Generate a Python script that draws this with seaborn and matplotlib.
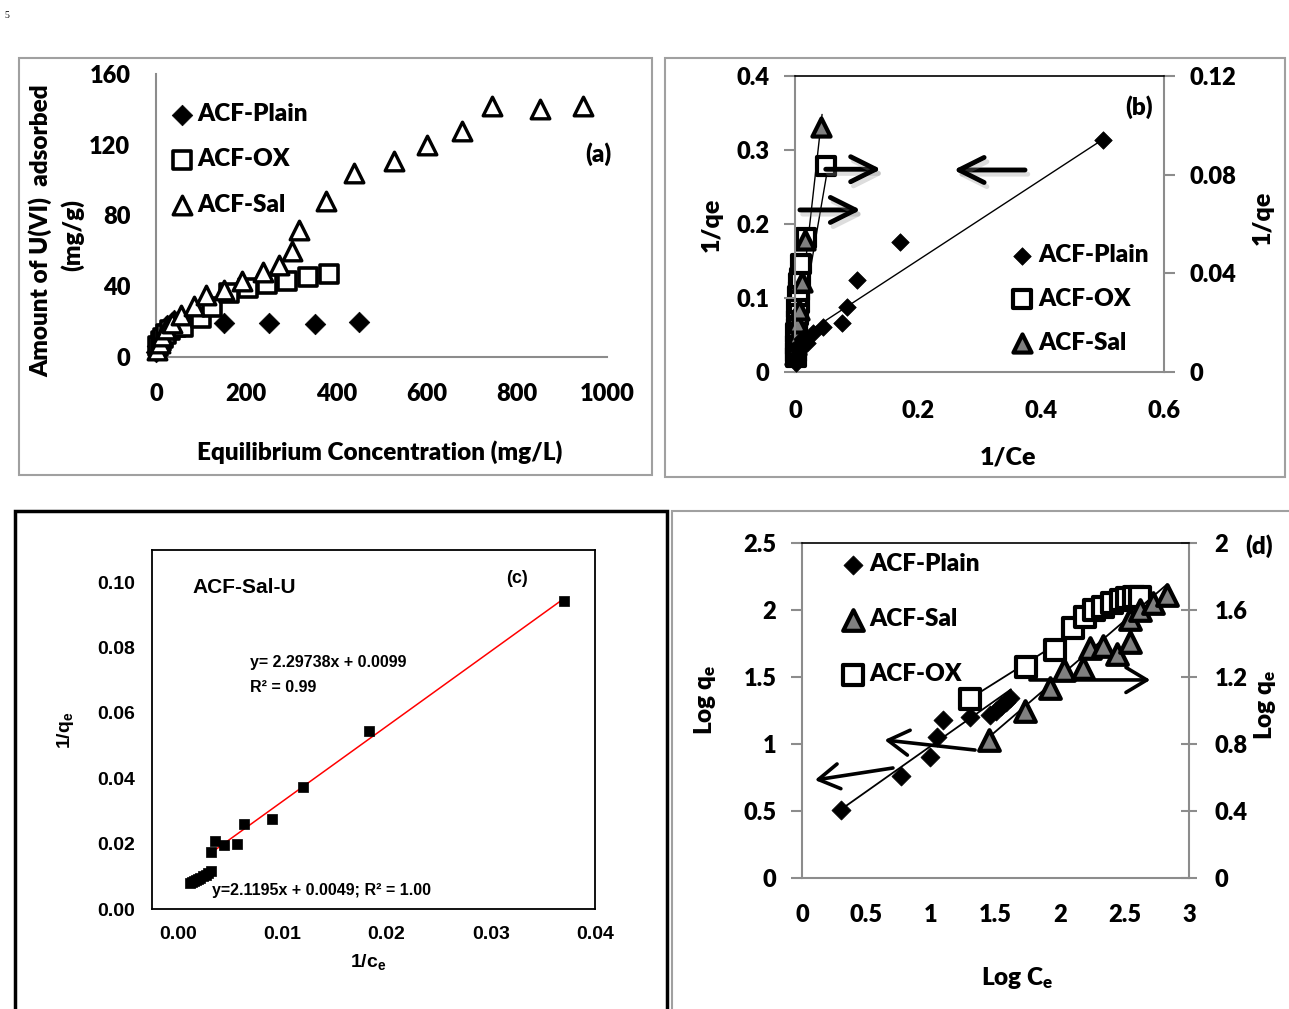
import numpy as np
import pandas as pd
import matplotlib
matplotlib.use("Agg")
import matplotlib.pyplot as plt
import matplotlib.patheffects as pe
from matplotlib.patches import Rectangle
from matplotlib.ticker import MultipleLocator
import seaborn as sns

# ---------------- data ----------------
# (a) adsorption isotherms: equilibrium concentration (mg/L) vs amount adsorbed (mg/g)
a_plain_x = [1, 3, 6, 9, 13, 18, 24, 40, 150, 250, 352, 450]
a_plain_y = [3, 6, 9, 12, 14, 16, 18, 21, 19.5, 19.3, 18.8, 20]
a_ox_x = [5, 10, 15, 22, 30, 45, 60, 100, 125, 162, 203, 247, 291, 336, 383]
a_ox_y = [6, 9, 11, 13, 15, 17, 17, 22, 28, 36, 39, 41, 43, 45, 47]
a_sal_x = [3, 8, 14, 22, 35, 55, 84, 111, 150, 190, 237, 272, 301, 318, 378,
           440, 527, 600, 679, 745, 852, 947]
a_sal_y = [4, 8, 12, 16, 19, 24, 29, 35, 38, 43, 48, 52, 60, 72, 88,
           104, 111, 120, 128, 142, 140, 142]

# (b) Langmuir plot: 1/Ce vs 1/qe (Plain on left axis, OX and Sal on right axis)
b_plain_x = [0.001, 0.002, 0.003, 0.005, 0.008, 0.012, 0.020, 0.029, 0.046, 0.076, 0.085,
             0.100, 0.171, 0.500]
b_plain_y = [0.012, 0.016, 0.020, 0.030, 0.038, 0.045, 0.039, 0.053, 0.061, 0.066, 0.088,
             0.124, 0.176, 0.313]
b_ox_x = [0.001, 0.002, 0.001, 0.003, 0.002, 0.004, 0.003, 0.005, 0.004, 0.006, 0.005, 0.007,
          0.006, 0.008, 0.010, 0.018, 0.050]
b_ox_y = [0.006, 0.008, 0.011, 0.013, 0.016, 0.018, 0.021, 0.023, 0.026, 0.028, 0.031, 0.033,
          0.036, 0.038, 0.0438, 0.0543, 0.0835]
b_sal_x = [0.000, 0.002, 0.003, 0.004, 0.006, 0.0114, 0.017, 0.042]
b_sal_y = [0.007, 0.011, 0.015, 0.020, 0.025, 0.0365, 0.0535, 0.0993]
b_plain_fit = [0.543, 0.0425, 0.03, 0.50]      # slope, intercept, x start, x end
b_ox_fit = [1.45, 0.0054, 0.005, 0.055]
b_sal_fit = [2.23, 0.0063, 0.003, 0.044]

# (c) ACF-Sal-U linear plot: 1/ce vs 1/qe
c_x = [0.00115, 0.00135, 0.00155, 0.00175, 0.00195, 0.00215, 0.00240, 0.00265, 0.00290, 0.00314,
       0.00314, 0.00352, 0.00438, 0.00563, 0.00636, 0.00902, 0.01196, 0.01835, 0.03703]
c_y = [0.0079, 0.0082, 0.0087, 0.0090, 0.0092, 0.0096, 0.0100, 0.0105, 0.0110, 0.0117,
       0.0174, 0.0208, 0.0197, 0.0199, 0.0261, 0.0276, 0.0374, 0.0545, 0.0943]
c_fit_high = [2.29738, 0.0099, 0.00314, 0.03703]
c_fit_low = [2.1195, 0.0049, 0.00115, 0.00314]

# (d) Freundlich plot: log Ce vs log qe (Plain, Sal on left axis; OX on right axis)
d_plain_x = [0.30, 0.77, 0.99, 1.05, 1.09, 1.30, 1.46, 1.50, 1.54, 1.58, 1.61]
d_plain_y = [0.51, 0.76, 0.90, 1.05, 1.18, 1.20, 1.22, 1.25, 1.28, 1.31, 1.34]
d_sal_x = [1.45, 1.73, 1.92, 2.03, 2.18, 2.23, 2.33, 2.44, 2.54, 2.54, 2.62, 2.72, 2.83]
d_sal_y = [1.03, 1.25, 1.42, 1.55, 1.57, 1.72, 1.73, 1.67, 1.76, 1.93, 2.00, 2.05, 2.11]
d_ox_x = [1.30, 1.74, 1.96, 2.10, 2.19, 2.26, 2.33, 2.40, 2.47, 2.52, 2.57, 2.62]
d_ox_y = [1.07, 1.26, 1.36, 1.49, 1.56, 1.60, 1.62, 1.64, 1.66, 1.67, 1.68, 1.68]
d_plain_fit = [0.68, 0.306, 0.30, 1.62]
d_sal_fit = [0.826, -0.146, 1.40, 2.83]
d_ox_fit = [0.485, 0.44, 1.30, 2.62]

# ---------------- style ----------------
sns.set_style("white")
WT = 'heavy'
plt.rcParams['font.family'] = ['Lato', 'DejaVu Sans']
plt.rcParams['font.weight'] = WT
plt.rcParams['text.color'] = 'black'
plt.rcParams['axes.labelcolor'] = 'black'
plt.rcParams['xtick.labelcolor'] = 'black'
plt.rcParams['ytick.labelcolor'] = 'black'
plt.rcParams['mathtext.fontset'] = 'custom'
plt.rcParams['mathtext.rm'] = 'Lato:weight=heavy'
plt.rcParams['mathtext.it'] = 'Lato:weight=heavy'
plt.rcParams['mathtext.sf'] = 'Liberation Sans:bold'
plt.rcParams['mathtext.default'] = 'rm'

W, H = 1289, 1009
fig = plt.figure(figsize=(W / 100, H / 100), dpi=100)
GRAY = '#8c8c8c'
SAL_FILL = '#808080'
TICK = 17
LEG = {'weight': WT, 'size': 17.5, 'family': 'Lato'}


def px_axes(x0, y0, x1, y1):
    return fig.add_axes([x0 / W, 1 - y1 / H, (x1 - x0) / W, (y1 - y0) / H])


def frame(x0, y0, x1, y1, color, lw):
    fig.patches.append(Rectangle((x0 / W, 1 - y1 / H), (x1 - x0) / W, (y1 - y0) / H,
                                 transform=fig.transFigure, fill=False, ec=color, lw=lw,
                                 clip_on=False))


def ftext(x, y, s, **kw):
    kw.setdefault('weight', WT)
    fig.text(x / W, 1 - y / H, s, ha=kw.pop('ha', 'center'), va=kw.pop('va', 'center'), **kw)


def fit_line(ax, fit, color='black', lw=1.0):
    xs = np.array([fit[2], fit[3]])
    sns.lineplot(x=xs, y=fit[0] * xs + fit[1], ax=ax, color=color, lw=lw, zorder=2)


def excel_axes(ax, sides=('left', 'bottom')):
    for s in ['left', 'right', 'top', 'bottom']:
        ax.spines[s].set_visible(s in sides)
        ax.spines[s].set_color(GRAY)
        ax.spines[s].set_linewidth(1.5)


def bold_ticks(ax, xt=None, xl=None, yt=None, yl=None):
    if xt is not None:
        ax.set_xticks(xt, xl, fontweight=WT, fontsize=TICK, family='Lato')
    if yt is not None:
        ax.set_yticks(yt, yl, fontweight=WT, fontsize=TICK, family='Lato')


frame(19, 58, 652, 475, '#a0a0a0', 1.5)
frame(665, 58, 1285, 477, '#a0a0a0', 1.5)
frame(15, 511, 667, 1014, 'black', 2.5)
frame(672, 511, 1294, 1014, '#a0a0a0', 1.5)
ftext(4, 15, '5', fontsize=7, family='Liberation Serif', weight='normal', ha='left')

# ---------------- (a) ----------------
ax = px_axes(156, 74, 607, 357)
sns.scatterplot(x=a_plain_x, y=a_plain_y, ax=ax, marker='D', s=110, color='black',
                edgecolor='black', linewidth=0.5, label='ACF-Plain', clip_on=False, zorder=3)
sns.scatterplot(x=a_ox_x, y=a_ox_y, ax=ax, marker='s', s=160, facecolor='white',
                edgecolor='black', linewidth=2.6, label='ACF-OX', clip_on=False, zorder=3)
sns.scatterplot(x=a_sal_x, y=a_sal_y, ax=ax, marker='^', s=180, facecolor='white',
                edgecolor='black', linewidth=2.4, label='ACF-Sal', clip_on=False, zorder=4)
ax.set_xlim(0, 1000)
ax.set_ylim(0, 160)
excel_axes(ax)
xt = [0, 200, 400, 600, 800, 1000]
yt = [0, 40, 80, 120, 160]
bold_ticks(ax, xt, [str(v) for v in xt], yt, [str(v) for v in yt])
ax.tick_params(axis='both', direction='out', length=8, width=1.5, color=GRAY)
ax.tick_params(axis='x', pad=11)
ax.tick_params(axis='y', pad=10.5)
ax.set_xlabel('')
ax.set_ylabel('')
ax.legend(loc='upper left', bbox_to_anchor=(172 / W, 1 - 103 / H), bbox_transform=fig.transFigure,
          frameon=False, prop=LEG, handlelength=0.8, handletextpad=0.25, labelspacing=0.96,
          borderpad=0, borderaxespad=0)
ax.text(1.01, 0.715, '(a)', transform=ax.transAxes, fontsize=17.5, weight=WT,
        ha='right', va='center')
ftext(40, 231, 'Amount of U(VI)  adsorbed', rotation=90, fontsize=17.5)
ftext(72, 235, '(mg/g)', rotation=90, fontsize=17.5)
ftext(380, 452, 'Equilibrium Concentration (mg/L)', fontsize=17.5)

# ---------------- (b) ----------------
ax = px_axes(795, 76, 1164, 372)
ax2 = ax.twinx()
ax.set_zorder(2)
ax.patch.set_visible(False)
ax2.set_zorder(1)
sns.scatterplot(x=b_plain_x, y=b_plain_y, ax=ax, marker='D', s=80, color='black',
                edgecolor='black', linewidth=0.5, label='ACF-Plain', clip_on=False, zorder=3)
fit_line(ax, b_plain_fit)
sns.scatterplot(x=b_ox_x, y=b_ox_y, ax=ax2, marker='s', s=150, facecolor='white',
                edgecolor='black', linewidth=3, label='ACF-OX', clip_on=False, zorder=3)
sns.scatterplot(x=b_sal_x, y=b_sal_y, ax=ax2, marker='^', s=170, facecolor=SAL_FILL,
                edgecolor='black', linewidth=3, label='ACF-Sal', clip_on=False, zorder=4)
fit_line(ax2, b_ox_fit)
fit_line(ax2, b_sal_fit)
ax.set_xlim(0, 0.6)
ax.set_ylim(0, 0.4)
ax2.set_ylim(0, 0.12)
excel_axes(ax, ('left', 'bottom', 'top'))
ax.spines['top'].set_color('black')
ax.spines['top'].set_linewidth(1.2)
excel_axes(ax2, ('right',))
bold_ticks(ax, [0, 0.2, 0.4, 0.6], ['0', '0.2', '0.4', '0.6'],
           [0, 0.1, 0.2, 0.3, 0.4], ['0', '0.1', '0.2', '0.3', '0.4'])
bold_ticks(ax2, yt=[0, 0.04, 0.08, 0.12], yl=['0', '0.04', '0.08', '0.12'])
for a in (ax, ax2):
    a.tick_params(direction='out', length=8, width=1.5, color=GRAY)
    a.set_xlabel('')
    a.set_ylabel('')
ax.tick_params(axis='x', pad=12)
ax.tick_params(axis='y', pad=10.5)
ax2.tick_params(axis='y', pad=10.5)
ax.get_legend().remove()
h1, l1 = ax.get_legend_handles_labels()
h2, l2 = ax2.get_legend_handles_labels()
ax.legend(h1 + h2, l1 + l2, loc='upper left', bbox_to_anchor=(1012 / W, 1 - 244 / H),
          bbox_transform=fig.transFigure, frameon=False, prop=LEG, handlelength=0.8,
          handletextpad=0.3, labelspacing=0.9, borderpad=0, borderaxespad=0)
ax2.get_legend().remove()
ax.text(0.97, 0.895, '(b)', transform=ax.transAxes, fontsize=17.5, weight=WT,
        ha='right', va='center')

shadow = [pe.SimpleLineShadow(offset=(2, -3), shadow_color='#909090', alpha=0.3),
          pe.Normal()]
for (x0, y0), (x1, y1) in [((0.050, 0.274), (0.140, 0.274)),
                           ((0.008, 0.219), (0.107, 0.219)),
                           ((0.374, 0.273), (0.258, 0.273))]:
    ann = ax.annotate('', xy=(x1, y1), xytext=(x0, y0),
                      arrowprops=dict(arrowstyle='->,head_length=0.9,head_width=0.45',
                                      lw=3.5, color='black', mutation_scale=20,
                                      shrinkA=0, shrinkB=0))
    ann.arrow_patch.set_path_effects(shadow)
ftext(712, 225, '1/qe', rotation=90, fontsize=18)
ftext(1263, 218, '1/qe', rotation=90, fontsize=18)
ftext(1008, 457, '1/Ce', fontsize=18)

# ---------------- (c) ----------------
CF = 'Liberation Sans'
ax = px_axes(152, 550, 595, 909)
sns.scatterplot(x=c_x, y=c_y, ax=ax, marker='s', s=55, color='black', edgecolor='black',
                linewidth=0.5, zorder=3)
fit_line(ax, c_fit_high, color='red', lw=1.1)
fit_line(ax, c_fit_low, color='red', lw=1.1)
ax.set_xlim(-0.0025, 0.04)
ax.set_ylim(0, 0.1098)
for s in ax.spines.values():
    s.set_visible(True)
    s.set_color('black')
    s.set_linewidth(1.3)
ax.set_xticks([0, 0.01, 0.02, 0.03, 0.04], ['0.00', '0.01', '0.02', '0.03', '0.04'],
              fontfamily=CF, fontsize=14, fontweight='bold')
ax.set_yticks([0, 0.02, 0.04, 0.06, 0.08, 0.10],
              ['0.00', '0.02', '0.04', '0.06', '0.08', '0.10'], fontfamily=CF, fontsize=14,
              fontweight='bold')
ax.xaxis.set_minor_locator(MultipleLocator(0.005))
ax.yaxis.set_minor_locator(MultipleLocator(0.01))
ax.tick_params(which='major', direction='out', length=7, width=1.2, color='black', pad=5)
ax.tick_params(which='minor', direction='out', length=4, width=1.2, color='black')
ax.tick_params(which='both', top=False, right=False)
tk = dict(transform=ax.transAxes, family=CF, weight='bold', va='center')
ax.text(40 / 443, 0.895, 'ACF-Sal-U', fontsize=15, ha='left', **tk)
ax.text(365 / 443, 0.92, '(c)', fontsize=13, ha='center', **tk)
ax.text(98 / 443, 0.687, 'y= 2.29738x + 0.0099', fontsize=11.5, ha='left', **tk)
ax.text(98 / 443, 0.617, 'R² = 0.99', fontsize=11.5, ha='left', **tk)
ax.text(60 / 443, 0.052, 'y=2.1195x + 0.0049; R² = 1.00', fontsize=11.5, ha='left', **tk)
ax.set_xlabel('')
ax.set_ylabel('')
ftext(65, 730, r'1/q$_{\mathsf{e}}$', rotation=90, fontsize=14, family=CF, weight='bold')
ftext(368, 962, r'1/c$_{\mathsf{e}}$', fontsize=14, family=CF, weight='bold')

# ---------------- (d) ----------------
ax = px_axes(802, 543, 1189, 878)
ax2 = ax.twinx()
ax.set_zorder(2)
ax.patch.set_visible(False)
ax2.set_zorder(1)
sns.scatterplot(x=d_plain_x, y=d_plain_y, ax=ax, marker='D', s=95, color='black',
                edgecolor='black', linewidth=0.5, label='ACF-Plain', clip_on=False, zorder=3)
sns.scatterplot(x=d_sal_x, y=d_sal_y, ax=ax, marker='^', s=220, facecolor=SAL_FILL,
                edgecolor='black', linewidth=3, label='ACF-Sal', clip_on=False, zorder=4)
fit_line(ax, d_plain_fit, lw=1.3)
fit_line(ax, d_sal_fit, lw=1.3)
sns.scatterplot(x=d_ox_x, y=d_ox_y, ax=ax2, marker='s', s=190, facecolor='white',
                edgecolor='black', linewidth=3, label='ACF-OX', clip_on=False, zorder=3)
fit_line(ax2, d_ox_fit, lw=1.3)
ax.set_xlim(0, 3)
ax.set_ylim(0, 2.5)
ax2.set_ylim(0, 2.0)
excel_axes(ax, ('left', 'bottom', 'top'))
ax.spines['top'].set_color('black')
ax.spines['top'].set_linewidth(1.2)
excel_axes(ax2, ('right',))
bold_ticks(ax, [0, 0.5, 1, 1.5, 2, 2.5, 3], ['0', '0.5', '1', '1.5', '2', '2.5', '3'],
           [0, 0.5, 1, 1.5, 2, 2.5], ['0', '0.5', '1', '1.5', '2', '2.5'])
bold_ticks(ax2, yt=[0, 0.4, 0.8, 1.2, 1.6, 2.0], yl=['0', '0.4', '0.8', '1.2', '1.6', '2'])
for a in (ax, ax2):
    a.tick_params(direction='out', length=8, width=1.5, color=GRAY)
    a.set_xlabel('')
    a.set_ylabel('')
ax.tick_params(axis='x', pad=11)
ax.tick_params(axis='y', pad=10.5)
ax2.tick_params(axis='y', direction='inout', length=11, pad=13)
ax.get_legend().remove()
h1, l1 = ax.get_legend_handles_labels()
h2, l2 = ax2.get_legend_handles_labels()
ax.legend(h1 + h2, l1 + l2, loc='upper left', bbox_to_anchor=(843 / W, 1 - 553 / H),
          bbox_transform=fig.transFigure, frameon=False, prop=LEG, handlelength=0.8,
          handletextpad=0.3, labelspacing=1.36, borderpad=0, borderaxespad=0)
ax2.get_legend().remove()
ax.text(1.18, 0.99, '(d)', transform=ax.transAxes, fontsize=17.5, weight=WT,
        ha='center', va='center')
for (x0, y0), (x1, y1) in [((1.767, 1.478), (2.70, 1.478)),
                           ((1.341, 0.955), (0.640, 1.03)),
                           ((0.705, 0.821), (0.100, 0.731))]:
    ax.annotate('', xy=(x1, y1), xytext=(x0, y0),
                arrowprops=dict(arrowstyle='->,head_length=0.75,head_width=0.45',
                                lw=2.6, color='black', mutation_scale=20,
                                shrinkA=0, shrinkB=0))
ftext(705, 700, 'Log q$_e$', rotation=90, fontsize=17.5)
ftext(1265, 705, 'Log q$_e$', rotation=90, fontsize=17.5)
ftext(1017, 978, 'Log C$_e$', fontsize=17.5)

fig.savefig('out.png', dpi=100, facecolor='white')
